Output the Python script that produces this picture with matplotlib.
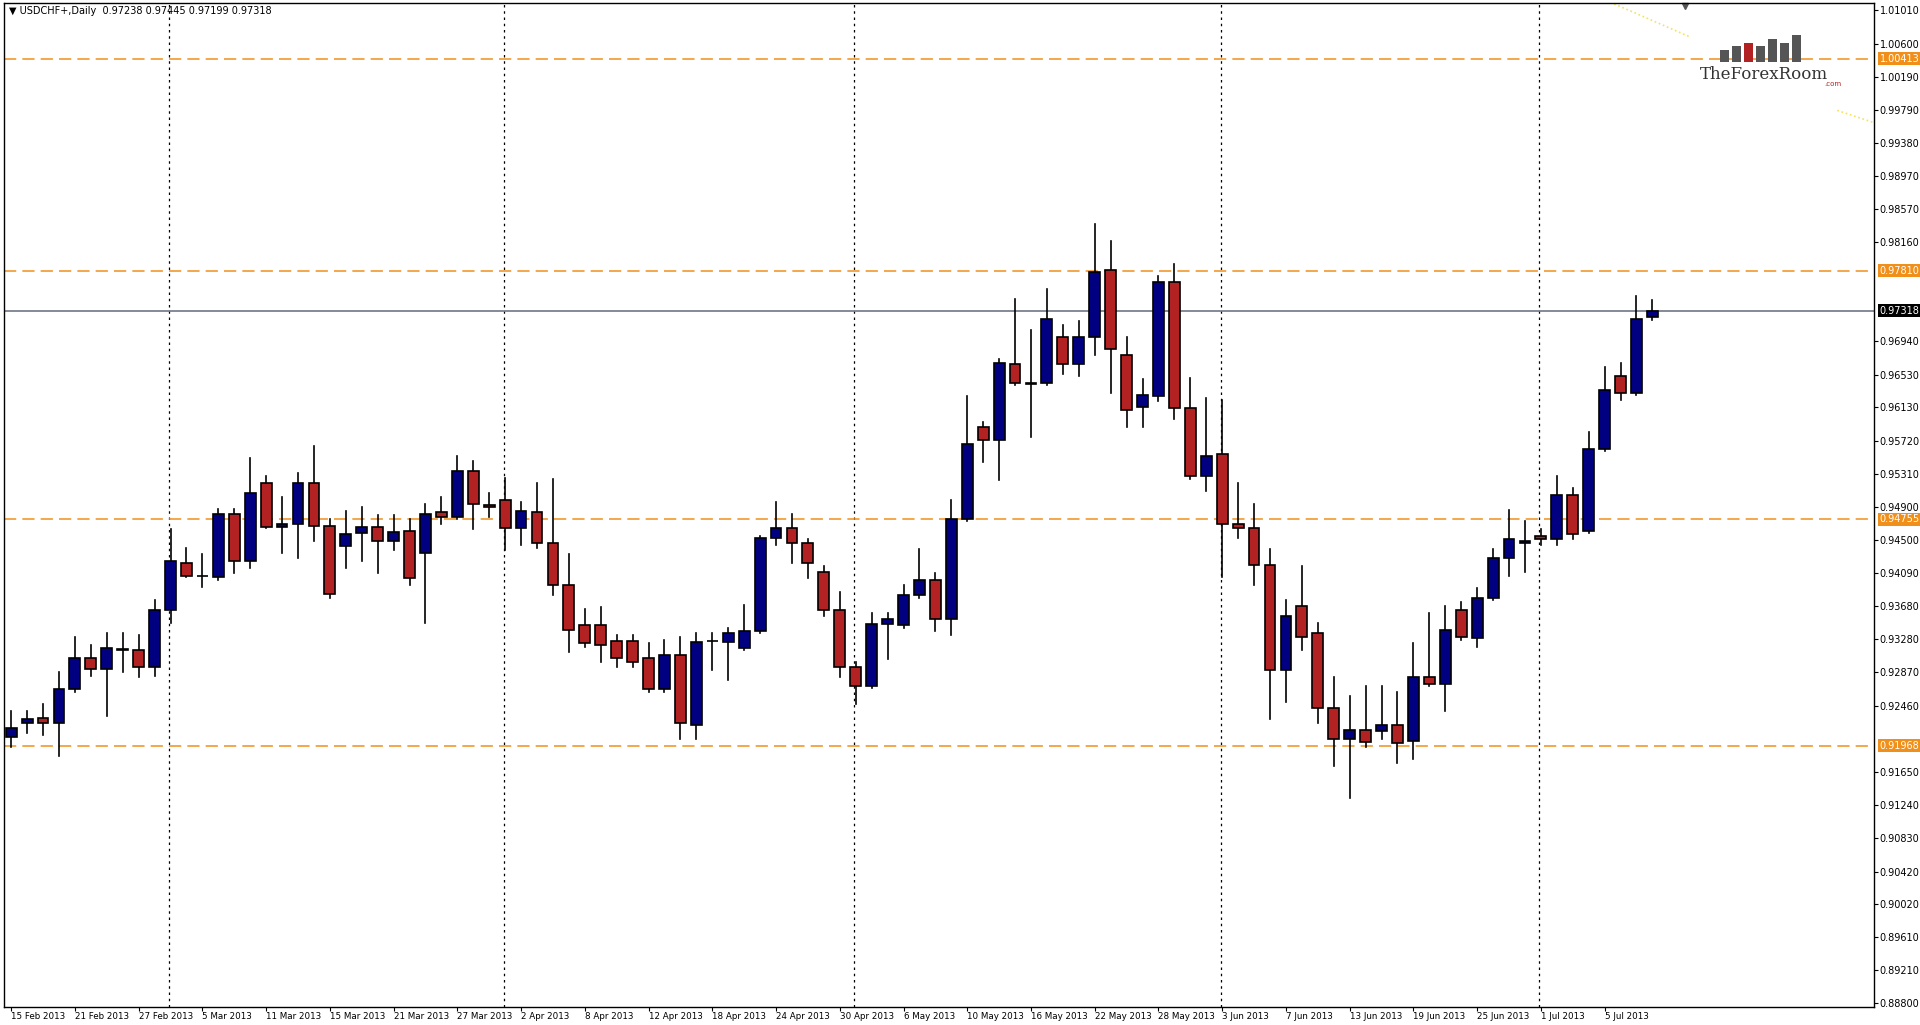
import numpy as np
import matplotlib
matplotlib.use("Agg")
import matplotlib.pyplot as plt
from matplotlib.patches import Rectangle
from matplotlib.transforms import blended_transform_factory

# daily OHLC, USDCHF, 15 Feb 2013 .. 10 Jul 2013
opens = [0.9207, 0.9225, 0.9231, 0.9225, 0.9266, 0.9305, 0.9291, 0.9315, 0.9315, 0.9293,
         0.9364, 0.9421, 0.9406, 0.9404, 0.9482, 0.9424, 0.9520, 0.9466, 0.9469, 0.9520,
         0.9467, 0.9442, 0.9458, 0.9466, 0.9449, 0.9461, 0.9434, 0.9484, 0.9478, 0.9535,
         0.9493, 0.9499, 0.9464, 0.9484, 0.9446, 0.9394, 0.9345, 0.9345, 0.9326, 0.9326,
         0.9305, 0.9267, 0.9308, 0.9222, 0.9326, 0.9324, 0.9317, 0.9338, 0.9452, 0.9464,
         0.9446, 0.9410, 0.9364, 0.9294, 0.9270, 0.9347, 0.9345, 0.9382, 0.9401, 0.9353,
         0.9476, 0.9589, 0.9573, 0.9666, 0.9643, 0.9643, 0.9699, 0.9666, 0.9699, 0.9782,
         0.9677, 0.9613, 0.9627, 0.9767, 0.9612, 0.9528, 0.9556, 0.9469, 0.9464, 0.9419,
         0.9290, 0.9368, 0.9335, 0.9243, 0.9205, 0.9216, 0.9215, 0.9222, 0.9203, 0.9281,
         0.9273, 0.9364, 0.9329, 0.9379, 0.9428, 0.9446, 0.9455, 0.9451, 0.9505, 0.9461,
         0.9562, 0.9651, 0.9631, 0.97238]
highs = [0.9240, 0.9240, 0.9248, 0.9288, 0.9330, 0.9320, 0.9335, 0.9335, 0.9333, 0.9376,
         0.9463, 0.9440, 0.9433, 0.9488, 0.9488, 0.9550, 0.9529, 0.9503, 0.9532, 0.9565,
         0.9475, 0.9485, 0.9490, 0.9481, 0.9481, 0.9475, 0.9494, 0.9503, 0.9553, 0.9547,
         0.9508, 0.9526, 0.9496, 0.9520, 0.9525, 0.9433, 0.9365, 0.9367, 0.9333, 0.9333,
         0.9323, 0.9327, 0.9330, 0.9335, 0.9335, 0.9342, 0.9370, 0.9455, 0.9497, 0.9482,
         0.9451, 0.9418, 0.9386, 0.9300, 0.9360, 0.9360, 0.9394, 0.9439, 0.9409, 0.9499,
         0.9627, 0.9595, 0.9672, 0.9746, 0.9708, 0.9759, 0.9714, 0.9719, 0.9838, 0.9817,
         0.9699, 0.9648, 0.9774, 0.9789, 0.9649, 0.9624, 0.9622, 0.9520, 0.9494, 0.9439,
         0.9376, 0.9418, 0.9348, 0.9281, 0.9258, 0.9270, 0.9270, 0.9263, 0.9323, 0.9360,
         0.9368, 0.9373, 0.9391, 0.9439, 0.9487, 0.9473, 0.9463, 0.9529, 0.9514, 0.9583,
         0.9662, 0.9668, 0.9750, 0.97445]
lows = [0.9195, 0.9213, 0.9210, 0.9184, 0.9263, 0.9282, 0.9233, 0.9288, 0.9281, 0.9282,
        0.9348, 0.9404, 0.9392, 0.9400, 0.9409, 0.9415, 0.9464, 0.9434, 0.9428, 0.9449,
        0.9379, 0.9415, 0.9424, 0.9409, 0.9437, 0.9395, 0.9348, 0.9470, 0.9475, 0.9463,
        0.9478, 0.9437, 0.9443, 0.9440, 0.9382, 0.9312, 0.9318, 0.9300, 0.9293, 0.9293,
        0.9263, 0.9263, 0.9205, 0.9205, 0.9290, 0.9278, 0.9314, 0.9335, 0.9443, 0.9421,
        0.9403, 0.9356, 0.9281, 0.9248, 0.9268, 0.9303, 0.9341, 0.9379, 0.9338, 0.9333,
        0.9473, 0.9546, 0.9523, 0.9640, 0.9576, 0.9640, 0.9654, 0.9651, 0.9677, 0.9631,
        0.9589, 0.9589, 0.9621, 0.9598, 0.9525, 0.9510, 0.9404, 0.9452, 0.9395, 0.9230,
        0.9251, 0.9315, 0.9225, 0.9172, 0.9132, 0.9195, 0.9205, 0.9175, 0.9180, 0.9270,
        0.9240, 0.9327, 0.9318, 0.9376, 0.9406, 0.9410, 0.9443, 0.9443, 0.9451, 0.9458,
        0.9559, 0.9622, 0.9628, 0.97199]
closes = [0.9218, 0.9230, 0.9225, 0.9266, 0.9305, 0.9291, 0.9317, 0.9316, 0.9293, 0.9364,
          0.9424, 0.9406, 0.9405, 0.9482, 0.9424, 0.9508, 0.9466, 0.9469, 0.9520, 0.9467,
          0.9383, 0.9457, 0.9466, 0.9449, 0.9460, 0.9403, 0.9482, 0.9478, 0.9535, 0.9494,
          0.9490, 0.9464, 0.9485, 0.9446, 0.9394, 0.9339, 0.9323, 0.9320, 0.9305, 0.9300,
          0.9267, 0.9308, 0.9225, 0.9324, 0.9325, 0.9335, 0.9338, 0.9452, 0.9464, 0.9446,
          0.9421, 0.9364, 0.9293, 0.9270, 0.9347, 0.9353, 0.9382, 0.9401, 0.9353, 0.9476,
          0.9568, 0.9573, 0.9668, 0.9643, 0.9642, 0.9722, 0.9666, 0.9699, 0.9779, 0.9684,
          0.9610, 0.9628, 0.9767, 0.9612, 0.9528, 0.9553, 0.9469, 0.9464, 0.9419, 0.9290,
          0.9356, 0.9330, 0.9243, 0.9205, 0.9216, 0.9201, 0.9222, 0.9200, 0.9281, 0.9273,
          0.9339, 0.9330, 0.9379, 0.9428, 0.9451, 0.9449, 0.9451, 0.9505, 0.9457, 0.9562,
          0.9634, 0.9631, 0.9722, 0.97318]

date_labels = ["15 Feb 2013", "21 Feb 2013", "27 Feb 2013", "5 Mar 2013", "11 Mar 2013",
               "15 Mar 2013", "21 Mar 2013", "27 Mar 2013", "2 Apr 2013", "8 Apr 2013",
               "12 Apr 2013", "18 Apr 2013", "24 Apr 2013", "30 Apr 2013", "6 May 2013",
               "10 May 2013", "16 May 2013", "22 May 2013", "28 May 2013", "3 Jun 2013",
               "7 Jun 2013", "13 Jun 2013", "19 Jun 2013", "25 Jun 2013", "1 Jul 2013",
               "5 Jul 2013"]
month_starts = [10, 31, 53, 76, 96]   # bar index of first bar of each month
levels = [1.00413, 0.97810, 0.94755, 0.91968]
last_price = 0.97318
price_ticks = [1.01010, 1.00600, 1.00190, 0.99790, 0.99380, 0.98970, 0.98570, 0.98160,
               0.96940, 0.96530, 0.96130, 0.95720, 0.95310, 0.94900, 0.94500,
               0.94090, 0.93680, 0.93280, 0.92870, 0.92460, 0.91650, 0.91240,
               0.90830, 0.90420, 0.90020, 0.89610, 0.89210, 0.88800]

plt.rcParams["font.family"] = ["DejaVu Sans"]
fig = plt.figure(figsize=(19.2, 10.25), dpi=100)
ax = fig.add_axes([0.002, 0.018, 0.974, 0.979])

up_col = "#000080"
dn_col = "#B22222"
w = 0.68
for i in range(len(opens)):
    o, h, l, c = opens[i], highs[i], lows[i], closes[i]
    ax.plot([i, i], [l, h], color="black", lw=1.2, zorder=3)
    lo, hi = min(o, c), max(o, c)
    col = up_col if c >= o else dn_col
    ax.add_patch(Rectangle((i - w / 2, lo), w, max(hi - lo, 0.00008),
                           facecolor=col, edgecolor="black", lw=1.2, zorder=4))

for m in month_starts:
    ax.axvline(m - 0.1, color="black", ls=(0, (2, 3)), lw=0.9, zorder=1)

for lv in levels:
    ax.axhline(lv, color="#F0901A", ls=(0, (8, 4)), lw=1.1, zorder=2)
ax.axhline(last_price, color="#6E7584", lw=1.2, zorder=2)

# trendline fragments near the top right corner
ax.plot([100.6, 105.4], [1.0109, 1.0068], color="#F5E35A", ls=":", lw=1.2)
ax.plot([114.6, 116.9], [0.9978, 0.9963], color="#F5E35A", ls=":", lw=1.2)

ax.set_xlim(-0.46, 116.9)
ax.set_ylim(0.8876, 1.0110)
ax.yaxis.tick_right()
ax.set_yticks(price_ticks)
ax.set_yticklabels(["%.5f" % v for v in price_ticks])
ax.set_xticks(np.arange(len(date_labels)) * 4)
ax.set_xticklabels(date_labels, ha="left")
ax.tick_params(axis="both", labelsize=7, length=3, pad=1, direction="out")
ax.tick_params(axis="x", labelsize=6.3)
for s in ax.spines.values():
    s.set_linewidth(1.0)

tr = blended_transform_factory(ax.transAxes, ax.transData)
for lv in levels:
    ax.text(1.003, lv, "%.5f" % lv, transform=tr, fontsize=7, va="center", ha="left",
            color="white", bbox=dict(boxstyle="square,pad=0.15", fc="#F0901A", ec="none"))
ax.text(1.003, last_price, "%.5f" % last_price, transform=tr, fontsize=7, va="center",
        ha="left", color="white", bbox=dict(boxstyle="square,pad=0.15", fc="black", ec="none"))

ax.text(0.003, 0.997, "\u25bc USDCHF+,Daily  0.97238 0.97445 0.97199 0.97318",
        transform=ax.transAxes, fontsize=7, va="top", ha="left")
ax.plot([0.899], [0.997], marker="v", color="#555555", ms=5, transform=ax.transAxes,
        clip_on=False)

# logo
lax = fig.add_axes([0.894, 0.940, 0.046, 0.027])
logo_h = [3, 4, 5, 4, 6, 5, 7]
logo_c = ["#555555", "#555555", "#B22222", "#555555", "#555555", "#555555", "#555555"]
lax.bar(range(len(logo_h)), logo_h, color=logo_c, width=0.75)
lax.axis("off")
fig.text(0.9185, 0.936, "TheForexRoom", fontsize=12, family="DejaVu Serif",
         ha="center", va="top", color="#333333")
fig.text(0.959, 0.921, ".com", fontsize=5, ha="right", va="top", color="#B22222")

fig.savefig("out.png", dpi=100)
